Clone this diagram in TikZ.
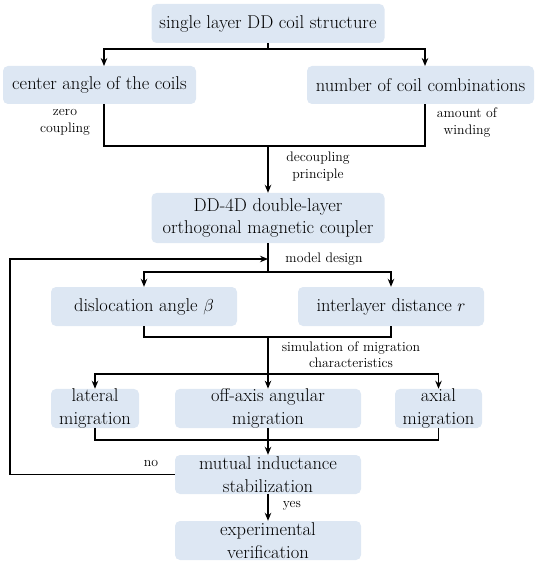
\documentclass[tikz,border=0pt]{standalone}
\usepackage{fontspec}
\usetikzlibrary{arrows.meta}
\definecolor{boxblue}{HTML}{DDE7F3}
\begin{document}
\begin{tikzpicture}[x=1pt,y=-1pt,
 box/.style={fill=boxblue,rounded corners=5pt,inner sep=0pt,align=center,font=\fontsize{18.5}{22.5}\selectfont},
 lbl/.style={font=\fontsize{13.8}{16.5}\selectfont,align=center,inner sep=0pt},
 ln/.style={line width=1.3pt},
 arr/.style={ln,-{Stealth[length=8pt,width=6.5pt]}}]
\useasboundingbox (0,0) rectangle (537,561);
% boxes
\node[box,minimum width=233,minimum height=39] (top) at (268,23.5) {single layer DD coil structure};
\node[box,minimum width=193,minimum height=38] (left1) at (99.5,85) {center angle of the coils};
\node[box,minimum width=227,minimum height=38] (right1) at (420.5,85) {number of coil combinations};
\node[box,minimum width=233,minimum height=50] (dd) at (268,218) {DD-4D double-layer\\orthogonal magnetic coupler};
\node[box,minimum width=186,minimum height=39] (disl) at (144,306.5) {dislocation angle $\beta$};
\node[box,minimum width=186,minimum height=39] (inter) at (391,306.5) {interlayer distance $r$};
\node[box,minimum width=88,minimum height=39] (lat) at (95,408.5) {lateral\\migration};
\node[box,minimum width=186,minimum height=39] (off) at (268,408.5) {off-axis angular\\migration};
\node[box,minimum width=87,minimum height=39] (ax) at (438.5,408.5) {axial\\migration};
\node[box,minimum width=186,minimum height=39] (mut) at (268,474.5) {mutual inductance\\stabilization};
\node[box,minimum width=186,minimum height=39] (exp) at (268,540.5) {experimental\\verification};
% labels
\node[lbl] (lz) at (65,122.5) {zero\\coupling};
\node[lbl] (la) at (467,122.5) {amount of\\winding};
\node[lbl] (ld) at (318,166.5) {decoupling\\principle};
\node[lbl] (lm) at (324,259) {model design};
\node[lbl] (ls) at (351,354.5) {simulation of migration\\characteristics};
\node[lbl] (lno) at (151,463) {no};
\node[lbl] (lyes) at (292,506) {yes};
% coordinates
\coordinate (s1) at (268,49);
\coordinate (t1) at (104,66);
\coordinate (t2) at (425,66);
\coordinate (b1) at (104,104);
\coordinate (b2) at (425,104);
\coordinate (j1l) at (104,146);
\coordinate (j1r) at (425,146);
\coordinate (j1) at (268,146);
\coordinate (fb) at (268,259);
\coordinate (s2) at (268,272);
\coordinate (j2l) at (144,337);
\coordinate (j2r) at (391,337);
\coordinate (j2) at (268,337);
\coordinate (s3) at (268,374);
\coordinate (j3l) at (95,440);
\coordinate (j3r) at (438.5,440);
\coordinate (fbl) at (10,474.5);
\coordinate (fbt) at (10,259);
% connectors
\draw[ln] (top.south) -- (s1);
\draw[arr] (s1) -| (t1);
\draw[arr] (s1) -| (t2);
\draw[ln] (b1) -- (j1l) -- (j1r) -- (b2);
\draw[arr] (j1) -- (dd.north);
\draw[ln] (dd.south) -- (s2);
\draw[arr] (s2) -| (disl.north);
\draw[arr] (s2) -| (inter.north);
\draw[ln] (disl.south) -- (j2l) -- (j2r) -- (inter.south);
\draw[ln] (j2) -- (s3);
\draw[arr] (s3) -| (lat.north);
\draw[arr] (s3) -- (off.north);
\draw[arr] (s3) -| (ax.north);
\draw[ln] (lat.south) -- (j3l) -- (j3r) -- (ax.south);
\draw[arr] (off.south) -- (mut.north);
\draw[arr] (mut.west) -- (fbl) -- (fbt) -- (fb);
\draw[arr] (mut.south) -- (exp.north);
\end{tikzpicture}
\end{document}
